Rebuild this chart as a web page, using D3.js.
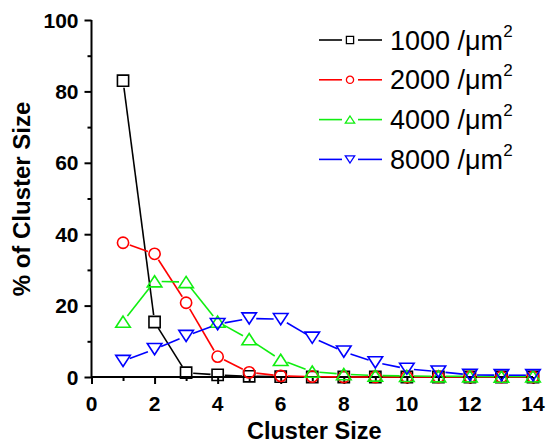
<!DOCTYPE html>
<html>
<head>
<script src="https://d3js.org/d3.v7.min.js"></script>
<style>
body { margin: 0; background: white; }
</style>
</head>
<body>
<div id="chart"></div>
<script>
/* Data */
var clusterSize = [1, 2, 3, 4, 5, 6, 7, 8, 9, 10, 11, 12, 13, 14];
var d1000 = [83.0, 15.4, 1.2, 0.6, 0.2, 0.1, 0, 0, 0, 0, 0, 0, 0, 0];
var d2000 = [37.6, 34.5, 20.8, 5.7, 1.3, 0.3, 0.1, 0, 0, 0, 0, 0, 0, 0];
var d4000 = [15.5, 26.8, 26.6, 15.5, 10.6, 4.8, 1.5, 0.8, 0.4, 0.3, 0.2, 0.2, 0.1, 0.2];
var d8000 = [4.5, 7.8, 11.5, 14.8, 16.4, 16.2, 11.0, 7.1, 4.1, 2.3, 1.5, 0.6, 0.5, 0.5];
var seriesNames = ["1000 /\u03BCm", "2000 /\u03BCm", "4000 /\u03BCm", "8000 /\u03BCm"];
var xTicks = [0, 2, 4, 6, 8, 10, 12, 14];
var yTicks = [0, 20, 40, 60, 80, 100];

var series = [
    {name: seriesNames[0], values: d1000, color: "#000000", symbol: "square"},
    {name: seriesNames[1], values: d2000, color: "#ff0000", symbol: "circle"},
    {name: seriesNames[2], values: d4000, color: "#11ee11", symbol: "up"},
    {name: seriesNames[3], values: d8000, color: "#0000ff", symbol: "down"}
];

var W = 548, H = 444;
var svg = d3.select("#chart").append("svg")
    .attr("width", W)
    .attr("height", H)
    .style("font-family", "Liberation Sans, Arial, sans-serif");

var x = d3.scaleLinear().domain([0, 14]).range([91.5, 533]);
var y = d3.scaleLinear().domain([0, 100]).range([377, 20]);

/* symbol path centred on 0,0 */
function symbolPath(type, r) {
    if (type == "square") return "M" + (-r) + "," + (-r) + "h" + (2*r) + "v" + (2*r) + "h" + (-2*r) + "Z";
    if (type == "circle") return "M" + (-r) + ",0a" + r + "," + r + " 0 1,0 " + (2*r) + ",0a" + r + "," + r + " 0 1,0 " + (-2*r) + ",0Z";
    var w = r * 1.3, h = r;
    if (type == "up") return "M0," + (-h) + "L" + w + "," + h + "L" + (-w) + "," + h + "Z";
    return "M0," + h + "L" + w + "," + (-h) + "L" + (-w) + "," + (-h) + "Z";
}

/* axes */
var xAxis = d3.axisBottom(x).tickValues(d3.range(0, 15, 1)).tickSize(6).tickFormat("");
var yAxis = d3.axisLeft(y).tickValues(d3.range(0, 101, 10)).tickSize(6).tickFormat("");

var gx = svg.append("g").attr("transform", "translate(0," + y(0) + ")").call(xAxis);
var gy = svg.append("g").attr("transform", "translate(" + x(0) + ",0)").call(yAxis);

[gx, gy].forEach(function(g) {
    g.select(".domain").attr("stroke", "black").attr("stroke-width", 2);
    g.selectAll(".tick line").attr("stroke", "black").attr("stroke-width", 2);
});
gx.select(".domain").attr("d", "M" + x(0) + ",0H" + x(14));
gy.select(".domain").attr("d", "M0," + y(0) + "V" + y(100));
gx.selectAll(".tick line").attr("y2", function(d) { return d % 2 == 0 ? 7 : 4; });
gy.selectAll(".tick line").attr("x2", function(d) { return d % 20 == 0 ? -7 : -4; });

/* tick labels */
svg.append("g").selectAll("text")
    .data(xTicks)
    .enter().append("text")
    .attr("x", d => x(d))
    .attr("y", 411)
    .attr("text-anchor", "middle")
    .attr("font-size", "21px")
    .attr("font-weight", "bold")
    .text(d => d);

svg.append("g").selectAll("text")
    .data(yTicks)
    .enter().append("text")
    .attr("x", 78.5)
    .attr("y", d => y(d))
    .attr("dy", "0.36em")
    .attr("text-anchor", "end")
    .attr("font-size", "21px")
    .attr("font-weight", "bold")
    .text(d => d);

/* axis titles */
svg.append("text")
    .attr("x", (x(0) + x(14)) / 2 + 2)
    .attr("y", 439)
    .attr("text-anchor", "middle")
    .attr("font-size", "23.5px")
    .attr("font-weight", "bold")
    .text("Cluster Size");

svg.append("text")
    .attr("transform", "translate(30," + 199 + ") rotate(-90)")
    .attr("text-anchor", "middle")
    .attr("font-size", "24px")
    .attr("font-weight", "bold")
    .text("% of Cluster Size");

/* series: lines with gaps at symbols, open symbols */
var R = 5.6;
series.forEach(function(s) {
    var pts = clusterSize.map((c, i) => [x(c), y(s.values[i])]);
    var g = svg.append("g");
    for (var i = 0; i < pts.length - 1; i++) {
        var p1 = pts[i], p2 = pts[i + 1];
        var dx = p2[0] - p1[0], dy = p2[1] - p1[1];
        var len = Math.sqrt(dx * dx + dy * dy);
        var gap = R + 1.5;
        if (len <= 2 * gap) continue;
        var ux = dx / len, uy = dy / len;
        g.append("line")
            .attr("x1", p1[0] + ux * gap)
            .attr("y1", p1[1] + uy * gap)
            .attr("x2", p2[0] - ux * gap)
            .attr("y2", p2[1] - uy * gap)
            .attr("stroke", s.color)
            .attr("stroke-width", 1.6);
    }
    g.selectAll("path")
        .data(pts)
        .enter().append("path")
        .attr("d", symbolPath(s.symbol, R))
        .attr("transform", d => "translate(" + d[0] + "," + d[1] + ")")
        .attr("fill", "none")
        .attr("stroke", s.color)
        .attr("stroke-width", 1.6);
});

/* legend */
var legend = svg.append("g");
series.forEach(function(s, i) {
    var ly = 40 + i * 39.8;
    legend.append("line").attr("x1", 319).attr("x2", 342).attr("y1", ly).attr("y2", ly)
        .attr("stroke", s.color).attr("stroke-width", 1.6);
    legend.append("line").attr("x1", 358).attr("x2", 382).attr("y1", ly).attr("y2", ly)
        .attr("stroke", s.color).attr("stroke-width", 1.6);
    legend.append("path")
        .attr("d", symbolPath(s.symbol, 3.6))
        .attr("transform", "translate(350," + ly + ")")
        .attr("fill", "none")
        .attr("stroke", s.color)
        .attr("stroke-width", 1.3);
    var t = legend.append("text")
        .attr("x", 390)
        .attr("y", ly + 9.5)
        .attr("font-size", "27px")
        .text(s.name);
    t.append("tspan")
        .attr("font-size", "17px")
        .attr("dy", "-13")
        .text("2");
});
</script>
</body>
</html>
